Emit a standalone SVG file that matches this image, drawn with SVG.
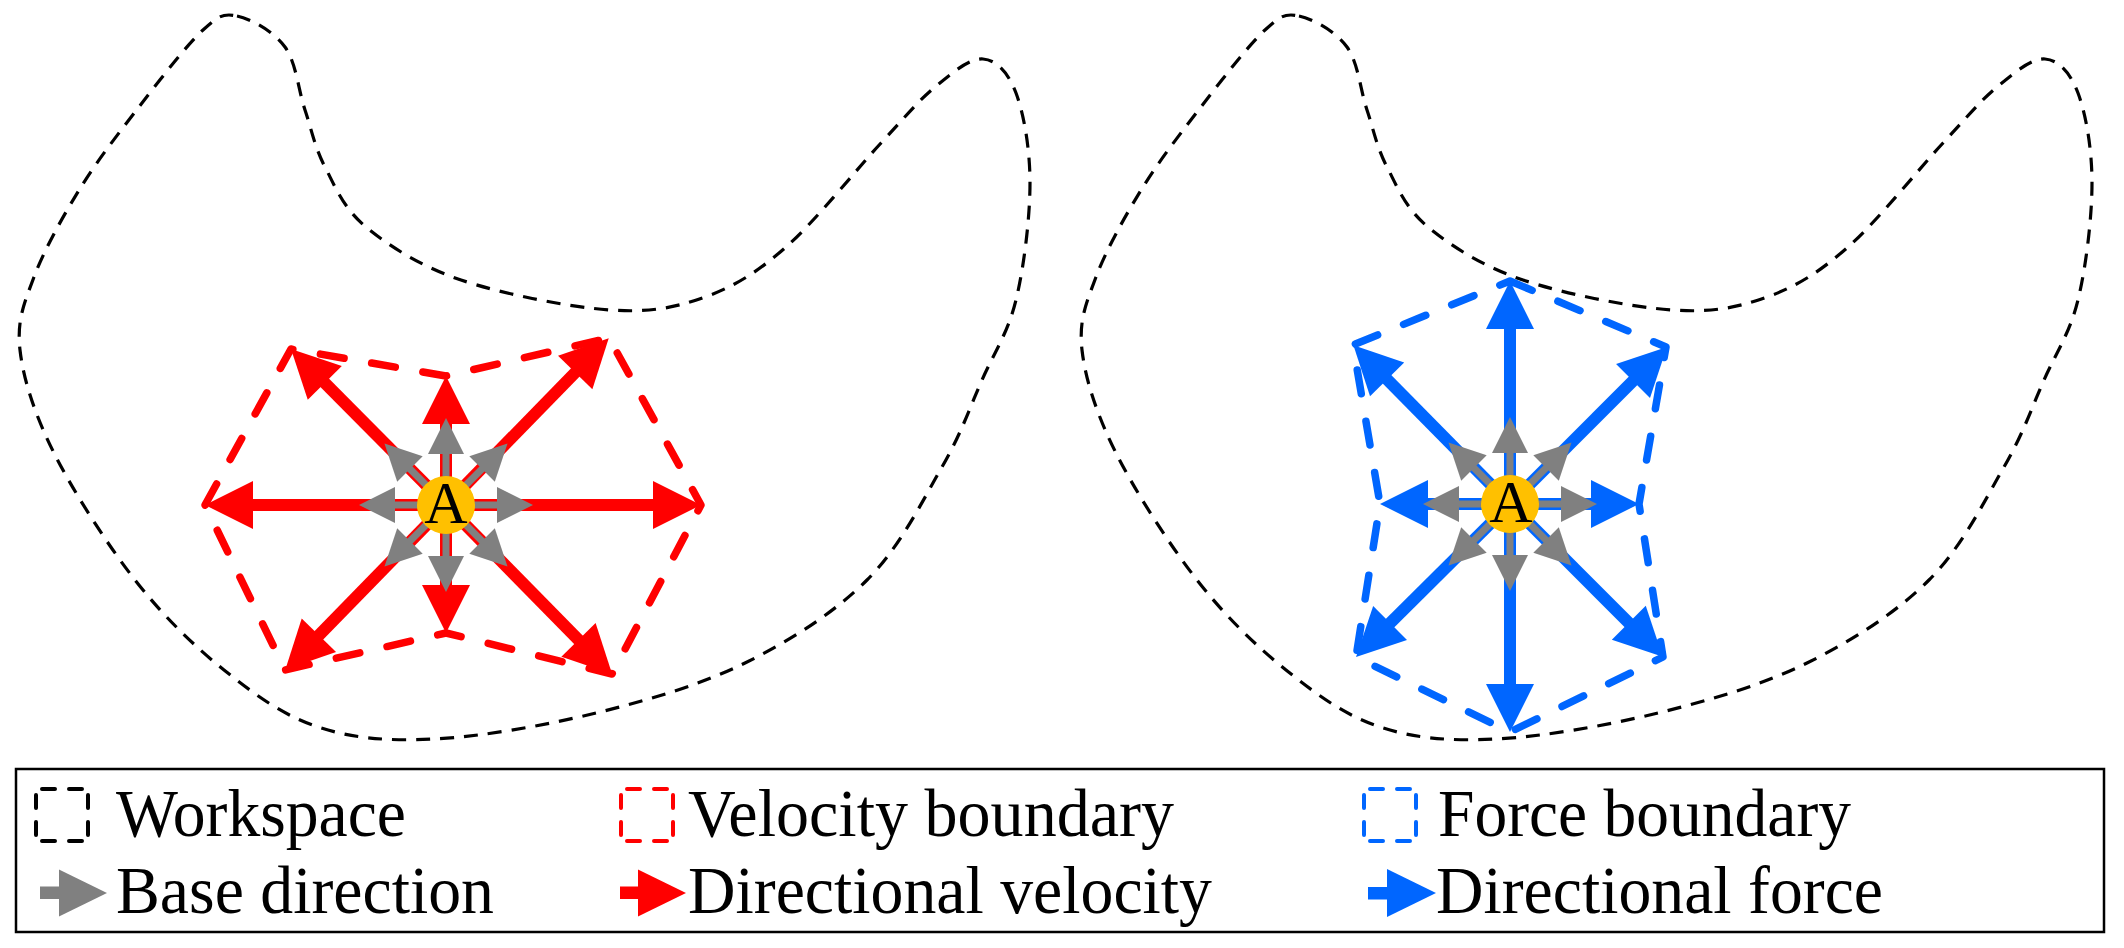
<svg xmlns="http://www.w3.org/2000/svg" xmlns:xlink="http://www.w3.org/1999/xlink" width="2124" height="948" viewBox="0 0 2124 948">
<style>
.ws{fill:none;stroke:#000;stroke-width:3.2;stroke-dasharray:14 10}
.vb{fill:none;stroke:#FF0000;stroke-linecap:round;stroke-linejoin:round}
.fb{fill:none;stroke:#0066FF;stroke-linecap:round;stroke-linejoin:round}
.rs{stroke:#FF0000;stroke-width:12}
.bs{stroke:#0066FF;stroke-width:12}
.gs{stroke:#808080;stroke-width:7}
.rf{fill:#FF0000}
.bf{fill:#0066FF}
.gf{fill:#808080}
.node{fill:#FFC000}
.lbl{font-family:"Liberation Serif","Times New Roman",serif;fill:#000}
.leg{font-family:"Liberation Serif","Times New Roman",serif;font-size:67px;fill:#000}
.ico{fill:none;stroke-width:4;stroke-linecap:round;stroke-dasharray:13 14 13 12;stroke-dashoffset:46}
</style>
<defs>
<polygon id="head" points="0,0 -48,-24 -48,24"/>
<polygon id="ghead" points="0,0 -36,-18 -36,18"/>
<path id="outline" d="M237,16 C250.7,18.8 273.7,31.3 285,47 C296.3,62.7 298.3,90 305,110 C311.7,130 314.8,147.5 325,167 C335.2,186.5 343.3,208.2 366,227 C388.7,245.8 420.3,266.2 461,280 C501.7,293.8 569.3,307.2 610,310 C650.7,312.8 675.7,307.5 705,297 C734.3,286.5 756.7,272.7 786,247 C815.3,221.3 856.2,169.7 881,143 C905.8,116.3 918,101 935,87 C952,73 969.5,58 983,59 C996.5,60 1008.2,72.3 1016,93 C1023.8,113.7 1030,148.5 1030,183 C1030,217.5 1024,267.2 1016,300 C1008,332.8 994.3,352.2 982,380 C969.7,407.8 961.2,433.7 942,467 C922.8,500.3 899.8,547.3 867,580 C834.2,612.7 790.2,640.8 745,663 C699.8,685.2 647.8,700.3 596,713 C544.2,725.7 480.3,736.7 434,739 C387.7,741.3 353,738.5 318,727 C283,715.5 254.5,694.5 224,670 C193.5,645.5 163.3,616.2 135,580 C106.7,543.8 73.2,491.3 54,453 C34.8,414.7 23.3,379.3 20,350 C16.7,320.7 23.8,304.2 34,277 C44.2,249.8 63,216 81,187 C99,158 121.7,129.2 142,103 C162.3,76.8 187.2,44.5 203,30 C218.8,15.5 223.3,13.2 237,16 Z"/>
<g id="gray8">
<g><line x2="53" class="gs"/><use xlink:href="#ghead" x="87" class="gf"/></g>
<g transform="rotate(45)"><line x2="53" class="gs"/><use xlink:href="#ghead" x="87" class="gf"/></g>
<g transform="rotate(90)"><line x2="53" class="gs"/><use xlink:href="#ghead" x="87" class="gf"/></g>
<g transform="rotate(135)"><line x2="53" class="gs"/><use xlink:href="#ghead" x="87" class="gf"/></g>
<g transform="rotate(180)"><line x2="53" class="gs"/><use xlink:href="#ghead" x="87" class="gf"/></g>
<g transform="rotate(-135)"><line x2="53" class="gs"/><use xlink:href="#ghead" x="87" class="gf"/></g>
<g transform="rotate(-90)"><line x2="53" class="gs"/><use xlink:href="#ghead" x="87" class="gf"/></g>
<g transform="rotate(-45)"><line x2="53" class="gs"/><use xlink:href="#ghead" x="87" class="gf"/></g>
</g>
</defs>
<rect width="2124" height="948" fill="#fff"/>

<g id="workspace-left"><use xlink:href="#outline" class="ws"/></g>
<g id="workspace-right" transform="translate(1062,0)"><use xlink:href="#outline" class="ws"/></g>

<g id="velocity-boundary">
<polygon class="vb" stroke-width="7.5" stroke-dasharray="24 28" points="205,505 291,349 446,376 609,338 701,505 612,674 446,633 285,670"/>
</g>
<g id="force-boundary">
<polygon class="fb" stroke-width="7.5" stroke-dasharray="24 28" points="1510,281 1666,347 1639,504 1663,657 1510,732 1356,657 1380,504 1353,345"/>
</g>

<g id="connectors">
<g id="directional-velocity" transform="translate(446,505)">
<g><line x2="209" class="rs"/><use xlink:href="#head" x="255" class="rf"/></g>
<g transform="rotate(180)"><line x2="195" class="rs"/><use xlink:href="#head" x="241" class="rf"/></g>
<g transform="rotate(-90)"><line x2="83" class="rs"/><use xlink:href="#head" x="129" class="rf"/></g>
<g transform="rotate(90)"><line x2="82" class="rs"/><use xlink:href="#head" x="128" class="rf"/></g>
<g transform="rotate(-134.8)"><line x2="174" class="rs"/><use xlink:href="#head" x="220" class="rf"/></g>
<g transform="rotate(-45.7)"><line x2="187" class="rs"/><use xlink:href="#head" x="233" class="rf"/></g>
<g transform="rotate(134.3)"><line x2="184" class="rs"/><use xlink:href="#head" x="230" class="rf"/></g>
<g transform="rotate(45.5)"><line x2="191" class="rs"/><use xlink:href="#head" x="237" class="rf"/></g>
</g>
<g id="directional-force" transform="translate(1510,504)">
<g transform="rotate(-90)"><line x2="177" class="bs"/><use xlink:href="#head" x="223" class="bf"/></g>
<g transform="rotate(90)"><line x2="182" class="bs"/><use xlink:href="#head" x="228" class="bf"/></g>
<g><line x2="83" class="bs"/><use xlink:href="#head" x="129" class="bf"/></g>
<g transform="rotate(180)"><line x2="84" class="bs"/><use xlink:href="#head" x="130" class="bf"/></g>
<g transform="rotate(-134.6)"><line x2="177" class="bs"/><use xlink:href="#head" x="223" class="bf"/></g>
<g transform="rotate(-45)"><line x2="176" class="bs"/><use xlink:href="#head" x="222" class="bf"/></g>
<g transform="rotate(135.2)"><line x2="171" class="bs"/><use xlink:href="#head" x="217" class="bf"/></g>
<g transform="rotate(45)"><line x2="170" class="bs"/><use xlink:href="#head" x="216" class="bf"/></g>
</g>
<g id="base-direction-left" transform="translate(446,505)"><use xlink:href="#gray8"/></g>
<g id="base-direction-right" transform="translate(1510,504)"><use xlink:href="#gray8"/></g>
</g>

<g id="node-A-left">
<circle class="node" cx="446" cy="505" r="29"/>
<text class="lbl" x="446" y="523" font-size="60" text-anchor="middle">A</text>
</g>
<g id="node-A-right">
<circle class="node" cx="1510" cy="504" r="29"/>
<text class="lbl" x="1511" y="522" font-size="60" text-anchor="middle">A</text>
</g>

<g id="legend">
<rect x="16" y="769" width="2088" height="163" fill="none" stroke="#000" stroke-width="2.5"/>
<rect class="ico" x="36" y="789" width="52" height="52" stroke="#000"/>
<text class="leg" x="116" y="836" textLength="290" lengthAdjust="spacingAndGlyphs">Workspace</text>
<rect class="ico" x="621" y="789" width="52" height="52" stroke="#FF0000"/>
<text class="leg" x="688" y="836" textLength="486" lengthAdjust="spacingAndGlyphs">Velocity boundary</text>
<rect class="ico" x="1364" y="789" width="52" height="52" stroke="#0066FF"/>
<text class="leg" x="1438" y="836" textLength="413" lengthAdjust="spacingAndGlyphs">Force boundary</text>
<g class="gf"><rect x="40" y="886.5" width="20" height="12.5"/><polygon points="59,869.5 107,893 59,916.5"/></g>
<text class="leg" x="116" y="913" textLength="378" lengthAdjust="spacingAndGlyphs">Base direction</text>
<g class="rf"><rect x="620" y="886.5" width="19" height="12.5"/><polygon points="638,869.5 686,893 638,916.5"/></g>
<text class="leg" x="688" y="913" textLength="524" lengthAdjust="spacingAndGlyphs">Directional velocity</text>
<g class="bf"><rect x="1368" y="887" width="19" height="12.5"/><polygon points="1387,869 1436,893 1387,917"/></g>
<text class="leg" x="1436" y="913" textLength="447" lengthAdjust="spacingAndGlyphs">Directional force</text>
</g>
</svg>
